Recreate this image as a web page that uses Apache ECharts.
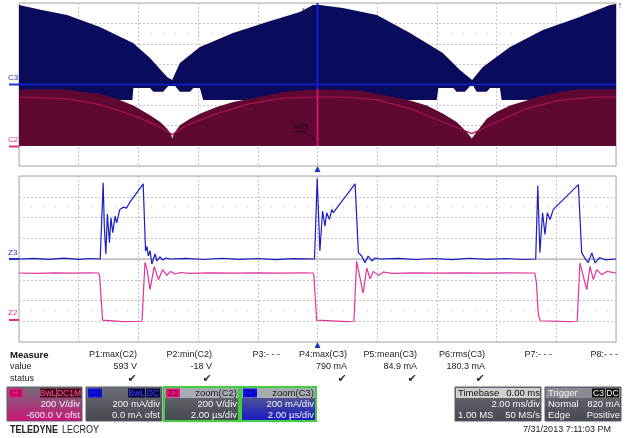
<!DOCTYPE html>
<html>
<head>
<meta charset="utf-8">
<script src="https://cdn.jsdelivr.net/npm/echarts@6/dist/echarts.min.js"></script>
<style>
  html, body { margin: 0; padding: 0; background: #fff; }
  #scope { width: 630px; height: 438px; }
</style>
</head>
<body>
<div id="scope"></div>
<script>
// ---- top panel: 2 ms/div, trigger at centre (ms) ----
// C3 current envelope (mA)
var c3Upper = [[-10, 780], [-9.2, 730], [-8.39, 681], [-7.29, 564], [-6.18, 407], [-5.61, 260], [-5.04, 74],
  [-4.87, 44], [-4.61, 211], [-3.94, 368], [-2.83, 505], [-1.69, 613], [-0.59, 711], [-0.15, 780], [0.08, 780],
  [0.85, 750], [1.99, 681], [3.10, 505], [4.20, 309], [4.77, 142], [5.18, 44], [5.54, 172], [6.45, 368],
  [7.55, 534], [8.69, 652], [9.80, 780], [10, 790]];
var c3Lower = [[-10, -150], [-6.2, -152], [-6.17, -34], [-5.61, -34], [-5.50, -70], [-5.17, -70], [-5.00, -15],
  [-4.77, -15], [-4.61, -70], [-4.27, -70], [-4.16, -34], [-3.94, -34], [-3.83, -152], [3.99, -152], [4.05, -34],
  [4.55, -34], [4.66, -70], [4.94, -70], [5.11, -15], [5.22, -15], [5.33, -70], [5.67, -70], [5.78, -34],
  [6.11, -34], [6.17, -152], [10, -150]];
// C2 voltage envelope (V)
var c2Upper = [[-10, 552], [-8.40, 552], [-7.85, 526], [-7.29, 510], [-6.73, 461], [-6.17, 395], [-5.61, 297],
  [-5.27, 232], [-5.05, 167], [-4.92, 118], [-4.86, 69], [-4.81, 118], [-4.61, 199], [-4.27, 265], [-3.94, 314],
  [-3.38, 379], [-2.82, 428], [-2.26, 461], [-1.70, 493], [-1.15, 526], [-0.59, 542], [-0.03, 552], [0.08, 552],
  [1.42, 542], [2.54, 477], [3.10, 444], [3.66, 395], [4.21, 314], [4.66, 232], [5.00, 134], [5.17, 69],
  [5.33, 134], [5.67, 265], [6.00, 330], [6.45, 395], [7.01, 444], [7.56, 493], [8.12, 526], [8.68, 552], [10, 552]];
var c2Lower = [[-10, -4], [10, -4]];
var c2Mean = [[-9.97, 477], [-8.40, 461], [-7.29, 402], [-6.17, 297], [-5.39, 199], [-4.86, 108], [-4.38, 199],
  [-3.38, 314], [-2.26, 412], [-1.15, 467], [-0.03, 477], [0.87, 477], [1.98, 451], [3.10, 363], [4.21, 232],
  [5.17, 118], [5.89, 216], [7.01, 363], [8.12, 444], [9.24, 477], [10, 477]];

// ---- bottom panel: zoom, 2 us/div (us) ----
var z3Current = [[0, 0], [0.5, 6], [1.0, -4], [1.5, 8], [2.0, -3], [2.4, 5], [2.72, 0],
  [2.82, 734], [2.86, 300], [2.91, 48], [2.96, 433], [3.03, 157], [3.08, 397], [3.14, 253], [3.22, 413],
  [3.27, 349], [3.38, 478], [3.5, 500], [3.6, 490], [3.7, 540], [4.16, 724], [4.24, 77], [4.29, 120], [4.33, 29],
  [4.39, 80], [4.45, -48], [4.56, 48], [4.62, -19], [4.72, 20], [4.82, -10], [4.92, 10], [5.06, 0],
  [5.6, 6], [6.2, -5], [6.8, 7], [7.4, -4], [8.0, 5], [8.6, -6], [9.2, 4], [9.9, 0],
  [9.99, 778], [10.08, 77], [10.17, 462], [10.25, 317], [10.31, 446], [10.40, 381], [10.48, 478], [10.53, 446],
  [11.26, 724], [11.37, 61], [11.48, 29], [11.59, -35], [11.70, 29], [11.82, -19], [11.93, 10], [12.09, 0],
  [12.7, 6], [13.3, -5], [13.9, 5], [14.5, -6], [15.1, 7], [15.7, -4], [16.3, 5], [16.9, -5], [17.31, 0],
  [17.38, 705], [17.45, 61], [17.54, 446], [17.62, 237], [17.70, 446], [17.79, 381], [17.90, 478],
  [18.74, 717], [18.85, 61], [18.96, 7], [19.07, -35], [19.19, 58], [19.30, -38], [19.46, 15], [19.63, -8], [20, 0]];
var z2Voltage = [[0, 465], [0.6, 462], [1.2, 467], [1.8, 463], [2.4, 466], [2.66, 465], [2.70, 440], [2.80, 10],
  [2.86, -5], [3.5, -3], [4.12, 0], [4.22, 567], [4.29, 500], [4.39, 305], [4.53, 529], [4.67, 401], [4.81, 497],
  [4.95, 442], [5.08, 480], [5.23, 455], [5.40, 470], [5.73, 462], [6.4, 467], [7.2, 463], [8.0, 466], [8.8, 463],
  [9.5, 466], [9.85, 465], [9.88, 440], [9.97, 10], [10.02, -5], [11.0, -3], [11.22, 0], [11.31, 577],
  [11.53, 272], [11.65, 513], [11.76, 410], [11.87, 481], [12.04, 442], [12.21, 475], [12.5, 462], [13.2, 466],
  [14.0, 463], [14.8, 467], [15.6, 463], [16.4, 466], [17.28, 465], [17.33, 380], [17.40, 60], [17.47, 5],
  [18.4, -3], [18.70, 0], [18.79, 561], [19.02, 305], [19.13, 529], [19.24, 401], [19.35, 497], [19.52, 449],
  [19.69, 480], [20, 465]];

// ---- measurement table ----
var measureNames = ['P1:max(C2)', 'P2:min(C2)', 'P3:- - -', 'P4:max(C3)', 'P5:mean(C3)', 'P6:rms(C3)', 'P7:- - -', 'P8:- - -'];
var measureValues = ['593 V', '-18 V', '', '790 mA', '84.9 mA', '180.3 mA', '', ''];
var measureOk = [true, true, false, true, true, true, false, false];
var measureRight = [137, 212, 280, 347, 417, 485, 552, 618];

var FONT = '"Liberation Sans", Arial, sans-serif';
var chart = echarts.init(document.getElementById('scope'), null, { renderer: 'canvas' });

function gridAxisX(gi, min, max) {
  return {
    gridIndex: gi, type: 'value', min: min, max: max, interval: 2,
    axisLine: { show: false }, axisTick: { show: false }, axisLabel: { show: false },
    splitLine: { show: true, lineStyle: { color: '#c4c4c4', type: [2, 2], width: 1 } }
  };
}
function gridAxisY(gi, min, max, grid) {
  return {
    gridIndex: gi, type: 'value', min: min, max: max, interval: 200,
    axisLine: { show: false }, axisTick: { show: false }, axisLabel: { show: false },
    splitLine: { show: grid, lineStyle: { color: '#c4c4c4', type: [2, 2], width: 1 } }
  };
}

// filled band between an upper and lower trace
function envelope(upper, lower, yIdx, color) {
  return {
    type: 'custom', xAxisIndex: 0, yAxisIndex: yIdx, silent: true, clip: true,
    data: [[0, 0]],
    renderItem: function (params, api) {
      var pts = upper.map(function (p) { return api.coord(p); });
      lower.slice().reverse().forEach(function (p) { pts.push(api.coord(p)); });
      return { type: 'polygon', shape: { points: pts }, style: { fill: color } };
    }
  };
}

// faint dotted row at +/- 2.5 div
function dotRow(xi, yi, xmin, xmax, v) {
  return {
    type: 'line', xAxisIndex: xi, yAxisIndex: yi, data: [[xmin, v], [xmax, v]], showSymbol: false, silent: true,
    lineStyle: { color: '#bdbdbd', width: 1, type: [1, 11] }, z: 1
  };
}

function txt(s, x, y, o) {
  return {
    type: 'text', x: x, y: y, silent: true, z: 20,
    style: Object.assign({ text: s, fill: '#222', font: '9px ' + FONT, align: 'left', verticalAlign: 'middle' }, o || {})
  };
}
function rect(x, y, w, h, fill, o) {
  return { type: 'rect', silent: true, z: 10, shape: { x: x, y: y, width: w, height: h }, style: Object.assign({ fill: fill }, o || {}) };
}
function grad(a, b) {
  return new echarts.graphic.LinearGradient(0, 0, 0, 1, [{ offset: 0, color: a }, { offset: 1, color: b }]);
}
function tag(s, x, y, w, bg, fg) {
  return [rect(x, y, w, 9, bg), txt(s, x + w / 2, y + 5, { fill: fg, align: 'center', font: '8.5px ' + FONT })];
}

// channel / timebase boxes
function chanBox(x, w, label, labelBg, labelFg, head, rows, bodyBottom, border) {
  var g = [];
  var y = 387, h = 34;
  g.push(rect(x, y, w, h, grad('#6e7079', bodyBottom), border ? { stroke: '#3fcf3f', lineWidth: 2 } : { stroke: '#5a5c64', lineWidth: 1 }));
  g.push(rect(x + 1, y + 1, w - 2, 10, head.bg));
  g.push(rect(x + 2, y + 1.5, 14, 9, labelBg));
  g.push(txt(label, x + 9, y + 6.5, { fill: labelFg, align: 'center' }));
  (head.items || []).forEach(function (it) { g = g.concat(it); });
  if (head.text) g.push(txt(head.text, x + w - 2, y + 6.5, { fill: head.fg, align: 'right', font: '9.5px ' + FONT }));
  g.push(txt(rows[0], x + w - 2, y + 17, { fill: '#f4f4f4', align: 'right', font: '9.5px ' + FONT }));
  g.push(txt(rows[1], x + w - 2, y + 28, { fill: '#f4f4f4', align: 'right', font: '9.5px ' + FONT }));
  return g;
}

var graphics = [];
// channel markers on the left
graphics.push(txt('C3', 8, 78, { fill: '#2030d0', font: '8px ' + FONT }));
graphics.push({ type: 'line', silent: true, shape: { x1: 9, y1: 84.5, x2: 19, y2: 84.5 }, style: { stroke: '#2030d0', lineWidth: 2 } });
graphics.push(txt('C2', 8, 140, { fill: '#e0308a', font: '8px ' + FONT }));
graphics.push({ type: 'line', silent: true, shape: { x1: 9, y1: 146.5, x2: 19, y2: 146.5 }, style: { stroke: '#e0308a', lineWidth: 2 } });
graphics.push(txt('Z3', 8, 253, { fill: '#2030d0', font: '8px ' + FONT }));
graphics.push({ type: 'line', silent: true, shape: { x1: 9, y1: 259, x2: 19, y2: 259 }, style: { stroke: '#2030d0', lineWidth: 2 } });
graphics.push(txt('Z2', 8, 313, { fill: '#e0308a', font: '8px ' + FONT }));
graphics.push({ type: 'line', silent: true, shape: { x1: 9, y1: 320, x2: 19, y2: 320 }, style: { stroke: '#e0308a', lineWidth: 2 } });
// trigger markers
[[317.5, 169], [317.5, 345]].forEach(function (p) {
  graphics.push({ type: 'polygon', silent: true, z: 20, shape: { points: [[p[0] - 3, p[1] + 3], [p[0] + 3, p[1] + 3], [p[0], p[1] - 3]] }, style: { fill: '#2030d0' } });
});
graphics.push(txt('↑', 620, 6, { fill: '#2030d0', font: 'bold 9px ' + FONT, align: 'center' }));
// annotation
graphics.push(txt('Vds', 293, 127, { fill: '#111', font: '9px ' + FONT }));
graphics.push({ type: 'line', silent: true, z: 20, shape: { x1: 293, y1: 132, x2: 306, y2: 132 }, style: { stroke: '#111', lineWidth: 1 } });
graphics.push({ type: 'line', silent: true, z: 20, shape: { x1: 306, y1: 132, x2: 317, y2: 143 }, style: { stroke: '#111', lineWidth: 1 } });
graphics.push(txt('Ids', 302, 11, { fill: '#1a1a40', font: '8px ' + FONT }));

// measurement table
graphics.push(txt('Measure', 10, 355, { font: 'bold 9.5px ' + FONT, fill: '#111' }));
graphics.push(txt('value', 10, 367));
graphics.push(txt('status', 10, 379));
measureNames.forEach(function (n, i) {
  var r = measureRight[i];
  graphics.push(txt(n, r, 355, { align: 'right' }));
  if (measureValues[i]) graphics.push(txt(measureValues[i], r, 367, { align: 'right' }));
  if (measureOk[i]) graphics.push(txt('✔', r - 5, 379, { align: 'center', fill: '#333', font: '11px "DejaVu Sans"' }));
});

// channel boxes
graphics = graphics.concat(chanBox(7, 75, 'C2', '#e8107c', '#5a0030',
  { bg: 'rgba(0,0,0,0)', items: [tag('BwL', 40, 388.5, 16, '#4a0718', '#ff4fa0'), tag('DC1M', 57, 388.5, 24, '#4a0718', '#ff4fa0')] },
  ['200 V/div', '-600.0 V ofst'], '#d0127a', false));
graphics = graphics.concat(chanBox(86, 76, 'C3', '#1010e8', '#000070',
  { bg: 'rgba(0,0,0,0)', items: [tag('BwL', 128, 388.5, 17, '#05053a', '#3a4cff'), tag('DC', 146, 388.5, 14, '#05053a', '#3a4cff')] },
  ['200 mA/div', '0.0 mA ofst'], '#45474f', false));
graphics = graphics.concat(chanBox(164, 75, 'Z2', '#e8107c', '#5a0030',
  { bg: '#a9abb3', text: 'zoom(C2)', fg: '#1a1a1a' },
  ['200 V/div', '2.00 µs/div'], '#45474f', true));
graphics = graphics.concat(chanBox(241, 75, 'Z3', '#1010e8', '#000070',
  { bg: '#a9abb3', text: 'zoom(C3)', fg: '#1a1a1a' },
  ['200 mA/div', '2.00 µs/div'], '#1414c8', true));

// timebase box
var boxFont = '9.5px ' + FONT;
graphics.push(rect(455, 387, 86, 34, grad('#6e7079', '#45474f'), { stroke: '#5a5c64', lineWidth: 1 }));
graphics.push(rect(456, 388, 84, 10, '#cfcfd2'));
graphics.push(txt('Timebase', 458, 393, { fill: '#111', font: boxFont }));
graphics.push(txt('0.00 ms', 540, 393, { fill: '#111', align: 'right', font: boxFont }));
graphics.push(txt('2.00 ms/div', 540, 404, { fill: '#f4f4f4', align: 'right', font: boxFont }));
graphics.push(txt('1.00 MS', 458, 415, { fill: '#f4f4f4', font: boxFont }));
graphics.push(txt('50 MS/s', 540, 415, { fill: '#f4f4f4', align: 'right', font: boxFont }));
// trigger box
graphics.push(rect(545, 387, 76, 34, grad('#6e7079', '#45474f'), { stroke: '#5a5c64', lineWidth: 1 }));
graphics.push(rect(546, 388, 74, 10, '#8a8c93'));
graphics.push(txt('Trigger', 548, 393, { fill: '#f4f4f4', font: boxFont }));
graphics = graphics.concat(tag('C3', 592, 388.5, 13, '#111', '#f4f4f4'), tag('DC', 606, 388.5, 13, '#111', '#f4f4f4'));
graphics.push(txt('Normal', 548, 404, { fill: '#f4f4f4', font: boxFont }));
graphics.push(txt('820 mA', 620, 404, { fill: '#f4f4f4', align: 'right', font: boxFont }));
graphics.push(txt('Edge', 548, 415, { fill: '#f4f4f4', font: boxFont }));
graphics.push(txt('Positive', 620, 415, { fill: '#f4f4f4', align: 'right', font: boxFont }));

// footer
var brand1 = txt('TELEDYNE', 10, 430, { font: 'bold 11px ' + FONT, fill: '#222' });
brand1.scaleX = 0.82;
var brand2 = txt('LECROY', 62, 430, { font: '11px ' + FONT, fill: '#222' });
brand2.scaleX = 0.82;
graphics.push(brand1, brand2);
graphics.push(txt('7/31/2013 7:11:03 PM', 611, 430, { align: 'right', fill: '#222' }));

var option = {
  animation: false,
  backgroundColor: '#ffffff',
  grid: [
    { left: 19, top: 3, width: 597, height: 163, show: true, borderColor: '#a8a8a8', borderWidth: 1, backgroundColor: 'transparent' },
    { left: 19, top: 176, width: 597, height: 166, show: true, borderColor: '#a8a8a8', borderWidth: 1, backgroundColor: 'transparent' }
  ],
  xAxis: [gridAxisX(0, -10, 10), gridAxisX(1, 0, 20)],
  yAxis: [gridAxisY(0, -800, 800, true), gridAxisY(0, -200, 1400, false), gridAxisY(1, -800, 800, true), gridAxisY(1, -200, 1400, false)],
  series: [
    dotRow(0, 0, -10, 10, 500),
    dotRow(0, 0, -10, 10, -500),
    dotRow(1, 2, 0, 20, 500),
    dotRow(1, 2, 0, 20, -500),
    envelope(c3Upper, c3Lower, 0, '#0b0b5e'),
    envelope(c2Upper, c2Lower, 1, '#5e0832'),
    {
      type: 'line', xAxisIndex: 0, yAxisIndex: 1, data: c2Mean, showSymbol: false, silent: true,
      lineStyle: { color: '#a8124f', width: 1.2 }
    },
    { // C3 zero level
      type: 'line', xAxisIndex: 0, yAxisIndex: 0, data: [[-10, 0], [10, 0]], showSymbol: false, silent: true,
      lineStyle: { color: '#1020d8', width: 1.5 }
    },
    { // trigger cursor, blue part
      type: 'line', xAxisIndex: 0, yAxisIndex: 0, data: [[0, 800], [0, -62]], showSymbol: false, silent: true,
      lineStyle: { color: '#1020d8', width: 2 }
    },
    { // trigger cursor, red part
      type: 'line', xAxisIndex: 0, yAxisIndex: 1, data: [[0, 552], [0, -4]], showSymbol: false, silent: true,
      lineStyle: { color: '#d0106a', width: 2 }
    },
    { // zoom centre line
      type: 'line', xAxisIndex: 1, yAxisIndex: 2, data: [[0, 0], [20, 0]], showSymbol: false, silent: true,
      lineStyle: { color: '#a0a0a0', width: 1 }
    },
    {
      type: 'line', xAxisIndex: 1, yAxisIndex: 3, data: z2Voltage, showSymbol: false, silent: true,
      lineStyle: { color: '#e0359c', width: 1.2 }
    },
    {
      type: 'line', xAxisIndex: 1, yAxisIndex: 2, data: z3Current, showSymbol: false, silent: true,
      lineStyle: { color: '#1c1cc4', width: 1.2 }
    }
  ],
  graphic: graphics
};
chart.setOption(option);
</script>
</body>
</html>
